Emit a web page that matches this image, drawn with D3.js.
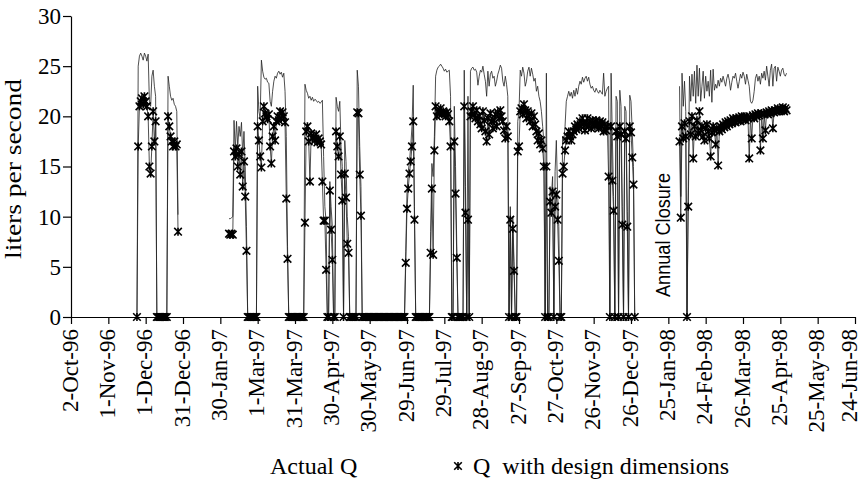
<!DOCTYPE html>
<html>
<head>
<meta charset="utf-8">
<style>
  body { margin: 0; background: #fff; }
  text { font-family: "Liberation Serif", "Times New Roman", serif; fill: #000; }
  .axis path, .axis line { stroke: #000; stroke-width: 1.2; }
</style>
</head>
<body>
<svg id="chart" width="863" height="482"></svg>
<script src="https://cdn.jsdelivr.net/npm/d3@7/dist/d3.min.js"></script>
<script>
// tick labels on the date axis (every 30 days)
const tickLabels = ["2-Oct-96", "1-Nov-96", "1-Dec-96", "31-Dec-96", "30-Jan-97", "1-Mar-97",
  "31-Mar-97", "30-Apr-97", "30-May-97", "29-Jun-97", "29-Jul-97", "28-Aug-97", "27-Sep-97",
  "27-Oct-97", "26-Nov-97", "26-Dec-97", "25-Jan-98", "24-Feb-98", "26-Mar-98", "25-Apr-98",
  "25-May-98", "24-Jun-98"]
const yTicks = [0, 5, 10, 15, 20, 25, 30]

// daily readings, three measuring periods (first day of each)
const periodStarts = ["24-Nov-96", "6-Feb-97", "3-Feb-98"]

const actualQ96 = [0, 25.0, 26.0, 26.3, 26.0, 25.6, 26.3, 26.0, 25.5, 26.2, 21.5, 21.0, 24.0, 24.6, 23.0, 22.0,
  0, 0, 0, 0, 0, 0, 0, 0, 0,
  24.0, 23.0, 22.0, 21.6, 21.8, 21.2, 21.0, 20.5, 10.2]
const designQ96 = [0, 17.0, 21.0, 21.5, 21.8, 21.2, 22.0, 21.5, 21.0, 20.0, 15.0, 14.3, 17.0, 20.5, 17.5, 19.5,
  0, 0, 0, 0, 0, 0, 0, 0, 0,
  20.0, 19.0, 18.0, 17.5, 17.0, 17.5, 17.0, 17.2, 8.5]

const actualQ97 = [9.8, 9.8, 9.9, 10.0,
  19.6, 16.5, 19.5, 17.0, 19.0, 18.0, 19.4, 16.0, 18.5, 15.0, 9.0,
  0, 0, 0, 0, 0, 0, 0, 0,
  23.0, 20.5, 19.8, 25.6, 24.5, 23.9, 23.7, 23.8, 23.4, 23.3, 21.5, 21.0, 22.5, 23.5, 24.0, 23.8, 24.3, 24.5, 24.2, 24.4, 23.9, 24.3, 22.5, 18.0, 7.0,
  0, 0, 0, 0, 0, 0, 0, 0, 0, 0, 0, 0, 0,
  23.2, 22.6, 22.3, 21.8, 22.0, 21.6, 21.9, 21.5, 21.7, 21.6, 21.4, 21.5, 21.3, 21.4, 21.6, 16.0,
  11.0, 9.5, 0, 0, 13.5, 11.0, 9.0, 0, 0, 21.9, 21.0, 20.5, 21.5, 17.0, 15.0, 0, 17.6, 15.5, 10.0, 8.0, 0, 0, 0, 0, 0, 0, 24.6, 23.0, 17.0, 13.0,
  0, 0, 0, 0, 0, 0, 0, 0, 0, 0, 0, 0, 0, 0, 0, 0, 0, 0, 0, 0, 0, 0, 0, 0, 0, 0, 0, 0, 0, 0, 0, 0, 0, 0, 0,
  6.5, 12.5, 14.5, 15.5, 17.0, 19.0, 23.1, 11.0,
  0, 0, 0, 0, 0, 0, 0, 0, 0, 0, 0, 0,
  8.5, 15.3, 14.0, 18.0,
  24.0, 24.6, 24.9, 25.0, 25.2, 25.0, 24.8, 24.5, 24.7, 24.4, 24.5, 24.6, 22.0,
  0, 0,
  21.0, 15.0, 7.0,
  0, 0, 0, 0, 0,
  24.6, 13.0, 0, 22.0, 0,
  24.5, 24.8, 24.9, 24.6, 24.7, 24.4, 23.1, 24.0, 24.6, 24.4, 25.0, 24.2, 23.5, 22.0, 24.5, 23.0, 24.2, 24.5, 23.8, 24.0, 23.0, 23.5, 24.2, 24.6, 25.1, 24.8, 23.5, 23.0, 24.0, 23.2, 22.0,
  0, 11.0, 0, 10.0, 5.5, 0, 0,
  19.5, 20.5, 24.6, 24.0, 24.9, 24.3, 23.0, 23.5, 24.5, 24.9, 24.0, 24.8, 24.2, 23.5, 23.8, 22.5, 23.0, 22.0, 21.5, 20.5, 19.0, 17.5,
  0, 24.3, 0, 0, 13.0, 12.0, 14.0, 0, 14.5, 17.6, 12.5, 9.0, 0, 0,
  18.0, 17.5, 19.0, 21.5, 22.0, 22.5,
  22.0, 22.4, 21.8, 22.6, 22.0, 22.8, 22.2, 23.0, 23.5, 23.2, 23.9, 23.4, 23.8, 24.0, 23.5, 23.9, 23.2, 22.8, 23.0, 22.6, 22.4, 22.8, 22.5, 22.3, 22.6, 22.4, 22.2, 24.3, 22.0, 22.5, 22.8, 23.0,
  0, 24.3, 18.0, 12.0, 0, 22.0, 21.5, 0, 22.6, 21.0, 11.0, 0, 21.0, 20.5, 10.5, 0, 22.1, 21.5, 18.5, 15.0, 0]
const designQ97 = [8.3, 8.2, 8.3, 8.2,
  16.5, 16.0, 16.8, 15.0, 16.2, 14.2, 16.5, 13.0, 15.5, 12.0, 6.6,
  0, 0, 0, 0, 0, 0, 0, 0,
  19.0, 17.6, 16.0, 14.9, 19.5, 21.0, 20.3, 20.0, 19.7, 20.2, 17.0, 15.3, 18.0, 19.0, 17.6, 19.5, 20.0, 19.6, 20.5, 19.8, 20.4, 20.0, 19.4, 11.8, 5.8,
  0, 0, 0, 0, 0, 0, 0, 0, 0, 0, 0, 0, 0,
  9.4, 18.5, 19.0, 17.5, 13.5, 18.3, 17.8, 18.0, 17.6, 18.2, 17.4, 17.8, 17.5, 17.2, 13.5, 9.6,
  9.6, 4.7, 0, 0, 12.6, 8.7, 5.7, 0, 0, 18.5, 17.0, 16.0, 18.0, 14.2, 11.6, 0, 14.3, 11.9, 7.3, 6.4, 0, 0, 0, 0, 0, 0, 20.4, 20.3, 14.2, 10.1,
  0, 0, 0, 0, 0, 0, 0, 0, 0, 0, 0, 0, 0, 0, 0, 0, 0, 0, 0, 0, 0, 0, 0, 0, 0, 0, 0, 0, 0, 0, 0, 0, 0, 0, 0,
  5.4, 10.8, 12.8, 14.3, 15.5, 17.0, 19.5, 9.7,
  0, 0, 0, 0, 0, 0, 0, 0, 0, 0, 0, 0,
  6.4, 12.8, 6.2, 16.6,
  21.0, 20.0, 20.5, 20.3, 20.8, 20.2, 20.5, 20.3, 20.0, 20.4, 20.2, 19.5, 17.0,
  0, 0,
  17.5, 12.3, 5.9,
  0, 0, 0, 0, 0,
  21.0, 10.4, 0, 9.7, 0,
  20.0, 20.5, 21.0, 20.2, 19.8, 20.6, 19.5, 20.0, 19.2, 18.8, 20.5, 19.6, 18.5, 17.5, 19.8, 18.2, 20.3, 19.5, 18.8, 19.6, 20.2, 19.0, 20.4, 19.8, 20.6, 20.0, 19.5, 18.6, 17.8, 19.0, 18.0,
  0, 9.7, 0, 8.8, 4.6, 0, 0,
  16.5, 17.0, 20.5, 20.8, 20.2, 21.2, 20.6, 19.8, 20.5, 20.0, 19.5, 20.3, 19.0, 20.0, 19.2, 18.5, 17.6, 18.3, 17.2, 17.6, 16.8, 15.0,
  0, 15.0, 0, 0, 11.5, 10.4, 12.5, 0, 11.0, 12.2, 9.7, 5.6, 0, 0,
  14.3, 15.0, 16.6, 17.6, 18.0, 18.5,
  18.0, 17.6, 18.2, 18.5, 19.0, 18.7, 19.2, 18.8, 19.5, 19.0, 19.8, 19.3, 18.6, 19.2, 19.8, 19.0, 19.5, 18.8, 19.6, 19.2, 19.0, 19.6, 19.3, 18.8, 19.5, 19.0, 19.4, 18.5, 19.2, 18.6, 19.0, 14.0,
  0, 19.0, 13.6, 10.6, 0, 18.5, 18.0, 0, 19.0, 18.2, 9.2, 0, 18.5, 17.8, 9.0, 0, 19.0, 18.4, 15.9, 13.2, 0]

const actualQ98 = [23.0, 12.0, 24.3, 21.0, 23.5, 20.5, 0, 13.0, 24.0, 21.5,
  24.2, 22.0, 24.5, 21.3, 25.1, 22.0, 24.8, 21.5, 23.0, 24.5,
  21.8, 24.0, 22.5, 23.5, 22.0, 24.6, 21.4, 24.7, 22.6, 23.2,
  22.8, 23.6, 23.0, 23.8, 23.4, 24.0, 23.5, 23.0, 23.8, 24.2,
  23.6, 22.6, 23.4, 24.0, 23.8, 24.3, 23.5, 22.8, 23.5, 24.2,
  23.8, 24.4, 24.0, 23.2, 24.2, 23.6, 23.0, 21.5, 21.3, 21.6,
  22.5, 23.8, 24.2, 23.5, 24.0, 23.2, 24.3, 23.8, 24.5, 23.6,
  25.0, 24.0, 23.0, 24.6, 25.2, 23.0, 24.8, 25.0, 23.5, 24.9,
  24.5, 24.0, 24.6, 24.8, 24.2, 24.0, 24.3]
const designQ98 = [17.5, 9.9, 19.0, 17.8, 19.3, 18.0, 0, 11.0, 19.5, 18.2,
  20.0, 15.8, 19.0, 18.0, 19.6, 18.3, 20.5, 18.6, 19.0, 18.0,
  17.6, 18.8, 19.2, 18.5, 17.8, 16.0, 18.4, 19.0, 18.6, 17.2,
  18.8, 15.1, 18.5, 19.0, 18.7, 19.2, 18.9, 19.4, 19.0, 19.5,
  19.2, 19.6, 19.3, 19.8, 19.5, 19.4, 19.8, 19.6, 19.9, 19.5,
  20.0, 19.7, 19.9, 19.6, 20.0, 19.8, 15.8, 19.9, 17.8, 20.1,
  19.8, 20.2, 20.0, 20.3, 20.1, 16.6, 20.3, 17.8, 20.2, 18.6,
  20.4, 20.2, 20.5, 20.3, 20.6, 18.8, 20.4, 20.6, 20.5, 20.8,
  20.5, 20.7, 20.6, 20.9, 20.5, 20.8, 20.6]

const actualPeriods = [actualQ96, actualQ97, actualQ98]
const designPeriods = [designQ96, designQ97, designQ98]

let svg = d3.select("#chart")
let parse = d3.timeParse("%d-%b-%y")
let serif = "'Liberation Serif', 'Times New Roman', serif"

let x = d3.scaleTime()
    .domain([parse(tickLabels[0]), parse(tickLabels[tickLabels.length - 1])])
    .range([71, 855])
let y = d3.scaleLinear()
    .domain([0, 30])
    .range([317, 16])

// turn a period's values into {date, v} points
function toPoints(values, p) {
    let start = parse(periodStarts[p])
    return values.map((v, i) => ({ date: d3.timeDay.offset(start, i), v: v }))
}

let line = d3.line()
    .x(d => x(d.date))
    .y(d => y(d.v))

let plot = svg.append("g")

// Actual Q
actualPeriods.forEach((vals, p) => {
    plot.append("path")
        .attr("d", line(toPoints(vals, p)))
        .attr("fill", "none")
        .attr("stroke", "#222")
        .attr("stroke-width", 0.8)
})

// Q with design dimensions: line plus star markers
let star = "M-3.8,-3.8L3.8,3.8M-3.8,3.8L3.8,-3.8M0,-4L0,4"
designPeriods.forEach((vals, p) => {
    let pts = toPoints(vals, p)
    plot.append("path")
        .attr("d", line(pts))
        .attr("fill", "none")
        .attr("stroke", "#222")
        .attr("stroke-width", 0.8)
    plot.append("g").selectAll("path")
        .data(pts)
        .enter()
        .append("path")
        .attr("d", star)
        .attr("transform", d => `translate(${x(d.date)},${y(d.v)})`)
        .attr("stroke", "#000")
        .attr("stroke-width", 1.6)
        .attr("fill", "none")
})

// y axis
let yAxis = svg.append("g")
    .attr("class", "axis")
    .attr("transform", "translate(71,0)")
    .call(d3.axisLeft(y).tickValues(yTicks).tickSize(8).tickSizeOuter(0).tickPadding(2))
yAxis.selectAll("text")
    .style("font-family", serif)
    .style("font-size", "23px")

// x axis with rotated date labels
let xAxis = svg.append("g")
    .attr("class", "axis")
    .attr("transform", "translate(0,317)")
    .call(d3.axisBottom(x)
        .tickValues(tickLabels.map(parse))
        .tickFormat((d, i) => tickLabels[i])
        .tickSize(7)
        .tickSizeOuter(0))
xAxis.selectAll("text")
    .style("font-family", serif)
    .style("font-size", "23px")
    .attr("transform", "rotate(-90)")
    .attr("text-anchor", "end")
    .attr("x", -12)
    .attr("y", 0)
    .attr("dy", (d, i) => i === tickLabels.length - 1 ? "0.05em" : "0.27em") // keep the last label inside the frame

// y axis title
svg.append("text")
    .attr("transform", "translate(21,169) rotate(-90)")
    .attr("text-anchor", "middle")
    .style("font-family", serif)
    .style("font-size", "24px")
    .attr("textLength", 180)
    .attr("lengthAdjust", "spacingAndGlyphs")
    .text("liters per second")

// annotation
svg.append("text")
    .attr("transform", "translate(670,297) rotate(-90)")
    .style("font-family", "'Liberation Sans', Arial, sans-serif")
    .style("font-size", "20px")
    .attr("textLength", 124)
    .attr("lengthAdjust", "spacingAndGlyphs")
    .text("Annual Closure")

// legend
svg.append("text")
    .attr("x", 270)
    .attr("y", 474)
    .style("font-family", serif)
    .style("font-size", "24px")
    .text("Actual Q")
svg.append("path")
    .attr("d", star)
    .attr("transform", "translate(458,466)")
    .attr("stroke", "#000")
    .attr("stroke-width", 1.6)
svg.append("text")
    .attr("x", 473)
    .attr("y", 474)
    .style("font-family", serif)
    .style("font-size", "24px")
    .style("white-space", "pre")
    .text("Q  with design dimensions")
</script>
</body>
</html>
